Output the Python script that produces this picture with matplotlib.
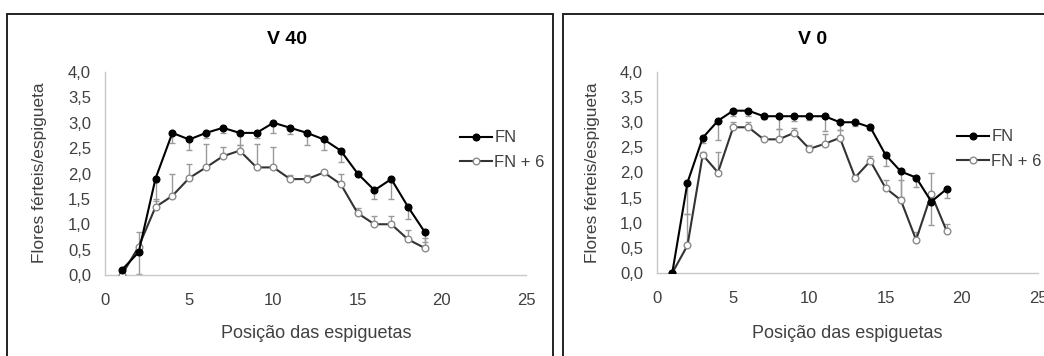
import numpy as np
import matplotlib
matplotlib.use("Agg")
import matplotlib.pyplot as plt
from matplotlib.patches import Rectangle
from matplotlib.ticker import FuncFormatter

plt.rcParams['font.family'] = ['Liberation Sans', 'DejaVu Sans']

# spikelet positions
pos = np.arange(1, 20)

# V 40
v40_fn = [0.1, 0.45, 1.9, 2.8, 2.67, 2.8, 2.9, 2.8, 2.8, 3.0, 2.9, 2.8, 2.67, 2.45, 2.0, 1.67, 1.89, 1.34, 0.84]
v40_fn6 = [0.0, 0.56, 1.34, 1.56, 1.91, 2.12, 2.34, 2.45, 2.12, 2.12, 1.89, 1.89, 2.02, 1.79, 1.22, 1.0, 1.0, 0.7, 0.53]
v40_fn_err = [0.05, 0.44, 0.45, 0.2, 0.2, 0.1, 0.11, 0.24, 0.1, 0.2, 0.12, 0.24, 0.2, 0.22, 0.05, 0.18, 0.39, 0.24, 0.19]
v40_fn6_err = [0.05, 0.29, 0.15, 0.44, 0.28, 0.46, 0.19, 0.11, 0.46, 0.4, 0.08, 0.08, 0.03, 0.21, 0.1, 0.17, 0.16, 0.18, 0.19]

# V 0
v0_fn = [0.0, 1.8, 2.69, 3.03, 3.23, 3.23, 3.12, 3.12, 3.12, 3.12, 3.12, 3.0, 3.0, 2.9, 2.35, 2.02, 1.9, 1.42, 1.67]
v0_fn6 = [0.0, 0.55, 2.35, 2.0, 2.9, 2.9, 2.66, 2.66, 2.79, 2.47, 2.57, 2.69, 1.9, 2.23, 1.69, 1.45, 0.66, 1.57, 0.84]
v0_fn_err = [0.0, 0.62, 0.1, 0.38, 0.1, 0.1, 0.05, 0.25, 0.1, 0.08, 0.3, 0.15, 0.08, 0.05, 0.22, 0.5, 0.18, 0.47, 0.17]
v0_fn6_err = [0.0, 0.62, 0.05, 0.4, 0.1, 0.1, 0.05, 0.2, 0.1, 0.08, 0.2, 0.15, 0.05, 0.1, 0.17, 0.4, 0.16, 0.43, 0.14]

W, H = 1044, 356
fig = plt.figure(figsize=(W / 100, H / 100), dpi=100)

def fx(px):
    return px / W

def fy(py):
    return 1 - py / H

# outer frames of the two charts
for x0, x1 in [(7, 553), (563, 1070)]:
    fig.patches.append(Rectangle((fx(x0), fy(366)), fx(x1 - x0), (366 - 14) / H,
                                 transform=fig.transFigure, fill=False,
                                 edgecolor='#222222', linewidth=1.4))

panels = [
    ("V 40", v40_fn, v40_fn6, v40_fn_err, v40_fn6_err, (105, 526, 72, 275), 287, 40, 316, 460, 150),
    ("V 0", v0_fn, v0_fn6, v0_fn_err, v0_fn6_err, (657, 1038, 72, 273), 813, 593, 847, 957, 149),
]

tick_fmt = FuncFormatter(lambda v, p: f"{v:.1f}".replace('.', ','))

for title, fn, fn6, fn_err, fn6_err, box, tx, ylx, xlx, legx, legy in panels:
    l, r, t, b = box
    ax = fig.add_axes([fx(l), fy(b), fx(r - l), (b - t) / H])
    fn = np.array(fn)
    fn6 = np.array(fn6)
    zeros = np.zeros(len(pos))
    ax.errorbar(pos, fn, yerr=[fn_err, zeros], fmt='none', ecolor='#9a9a9a',
                elinewidth=1, capsize=2.5, capthick=1, zorder=2)
    ax.errorbar(pos, fn6, yerr=[zeros, fn6_err], fmt='none', ecolor='#9a9a9a',
                elinewidth=1, capsize=2.5, capthick=1, zorder=2)
    ax.plot(pos, fn, color='black', linewidth=1.5, marker='o', markersize=4.8,
            markerfacecolor='black', markeredgecolor='black', label='FN', zorder=4)
    ax.plot(pos, fn6, color='#333333', linewidth=1.5, marker='o', markersize=4.8,
            markerfacecolor='white', markeredgecolor='#8a8a8a', label='FN + 6', zorder=3)
    ax.set_xlim(0, 25)
    ax.set_ylim(0, 4)
    ax.set_xticks([0, 5, 10, 15, 20, 25])
    ax.set_yticks(np.arange(0, 4.01, 0.5))
    ax.yaxis.set_major_formatter(tick_fmt)
    ax.tick_params(length=0, labelsize=12, labelcolor='#404040')
    ax.tick_params(axis='x', pad=13)
    ax.tick_params(axis='y', pad=10)
    for s in ['top', 'right']:
        ax.spines[s].set_visible(False)
    for s in ['left', 'bottom']:
        ax.spines[s].set_color('#c8c8c8')
        ax.spines[s].set_linewidth(1)
    ax.patch.set_alpha(0)

    fig.text(fx(tx), fy(39), title, ha='center', va='center', fontsize=14,
             fontweight='bold', color='black')
    fig.text(fx(ylx), fy(173), "Flores férteis/espigueta", rotation=90,
             ha='center', va='center', fontsize=12.5, color='#404040')
    fig.text(fx(xlx), fy(333), "Posição das espiguetas", ha='center',
             va='center', fontsize=13, color='#404040')
    ax.legend(loc='center left', bbox_to_anchor=(fx(legx), fy(legy)),
              bbox_transform=fig.transFigure, frameon=False, fontsize=12,
              handlelength=1.9, handletextpad=0.15, labelspacing=0.55,
              labelcolor='#404040', borderaxespad=0, borderpad=0)

fig.savefig("out.png", dpi=100)
